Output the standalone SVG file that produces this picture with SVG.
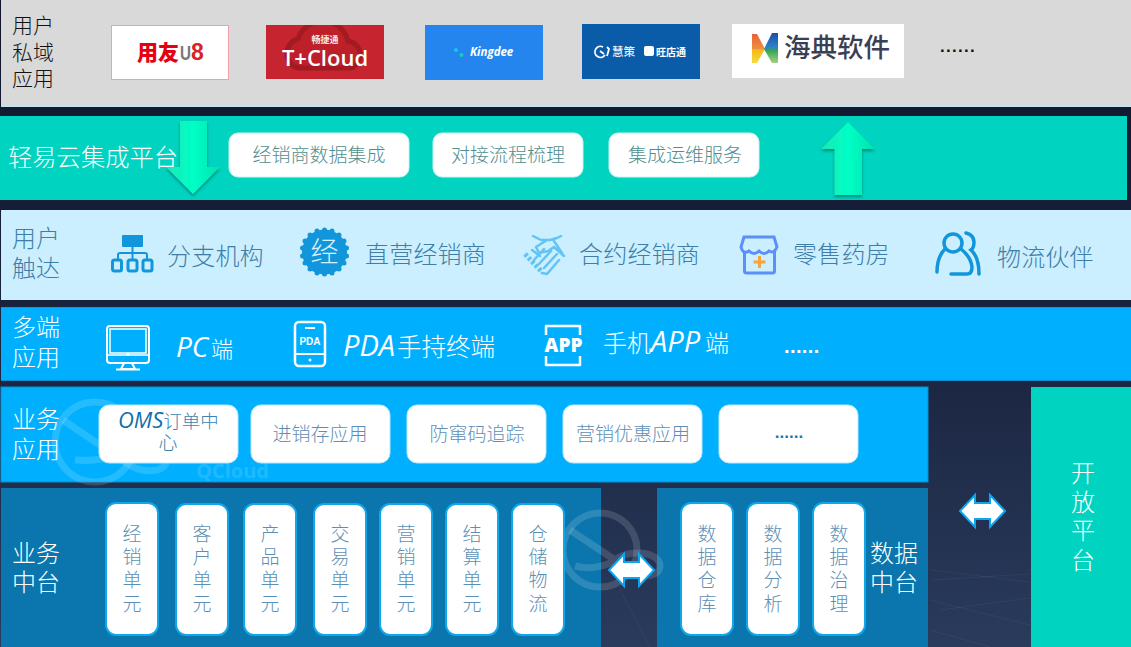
<svg xmlns="http://www.w3.org/2000/svg" width="1131" height="647" viewBox="0 0 1131 647">
<style>
text{font-family:"Noto Sans CJK SC","Noto Sans",sans-serif;font-weight:300}
.lat{font-family:"Open Sans","Noto Sans CJK SC",sans-serif;font-style:italic;font-weight:400}
.mono{font-family:"Liberation Sans",sans-serif;font-weight:700}
.touch{font-size:24px;fill:#3f7ea6}
.mt{font-size:24px;fill:#fff}
.p2{fill:#fff;stroke:#c8f5ee;stroke-width:1}
.p2t{font-size:19px;fill:#4f8f8f;text-anchor:middle}
.p5{fill:#fff;stroke:#b5e8ff;stroke-width:1}
.p5t{font-size:19px;fill:#5d8fb5;text-anchor:middle}
.p6{fill:#fff;stroke:#0fa6ea;stroke-width:2}
.p6t{font-size:19px;fill:#5d8fb5;text-anchor:middle}
.ico{fill:none;stroke:#1296db;stroke-width:3}
.icw{fill:none;stroke:#fff;stroke-width:2.500}
.hs{fill:none;stroke:#62c4f4;stroke-width:2.500;stroke-linecap:round;stroke-linejoin:round}
.wm{fill:none;stroke:#fff;stroke-opacity:.14;stroke-width:7}
.da{fill:#fff;stroke:#0aa6f0;stroke-width:2}
.st{stroke:#fff;stroke-opacity:.05;stroke-width:1;fill:none}
</style>
<defs>
<linearGradient id="bg" x1="0" y1="0" x2="0" y2="1"><stop offset="0" stop-color="#10142a"/><stop offset=".6" stop-color="#1c2743"/><stop offset="1" stop-color="#2a3b5c"/></linearGradient>
<linearGradient id="ag" x1="0" y1="0" x2="1" y2="0"><stop offset="0" stop-color="#1ee6b4"/><stop offset=".5" stop-color="#00ffc6"/><stop offset="1" stop-color="#06e3ae"/></linearGradient>
<linearGradient id="hl" x1="0" y1="0" x2="0" y2="1"><stop offset="0" stop-color="#e8613f"/><stop offset=".5" stop-color="#ef8f3a"/><stop offset=".55" stop-color="#f6b81e"/><stop offset="1" stop-color="#f4dc3a"/></linearGradient>
<linearGradient id="hr" x1="0" y1="0" x2="0" y2="1"><stop offset="0" stop-color="#1a4fa8"/><stop offset=".5" stop-color="#2f86c8"/><stop offset=".55" stop-color="#2fa050"/><stop offset="1" stop-color="#a6cf88"/></linearGradient>
<filter id="sh" x="-30%" y="-30%" width="160%" height="160%"><feDropShadow dx="0" dy="2" stdDeviation="1.500" flood-color="#00574f" flood-opacity=".6"/></filter>
<clipPath id="tc"><rect x="266" y="25" width="118" height="54"/></clipPath>
</defs>
<rect width="1131" height="647" fill="url(#bg)"/>
<path class="st" d="M930 570l100 12M930 600l100 25M930 630l60 17M932 580l98-6M620 590l30 57M940 610l90-12"/>

<g id="band-private">
<rect x="1" y="0" width="1130" height="106.500" fill="#d9d9d9"/>
<rect x="1" y="106" width="1130" height="1" fill="#bfe6f5"/>
<text x="12" y="33" font-size="21" fill="#111">用户</text>
<text x="12" y="60" font-size="21" fill="#111">私域</text>
<text x="12" y="86" font-size="21" fill="#111">应用</text>
</g>
<g id="logo-u8">
<rect x="111.500" y="25.500" width="117" height="54" fill="#fff" stroke="#f0a0a6"/>
<text x="137" y="60" font-size="21" style="font-weight:900" fill="#e60012">用友</text>
<text x="180" y="60" font-size="21" class="mono" fill="#777" textLength="11" lengthAdjust="spacingAndGlyphs">U</text>
<text x="191" y="60" font-size="23" class="mono" fill="#d8232a">8</text>
</g>
<g id="logo-tcloud">
<rect x="266" y="25" width="118" height="54" fill="#c6242e"/>
<path clip-path="url(#tc)" d="M298 68a15 15 0 0 1 0-29 26 26 0 0 1 50 2 14 14 0 0 1 3 27z" fill="#bd2029" stroke="#a41a23" stroke-width="5"/>
<text x="325" y="43" font-size="9" style="font-weight:700" fill="#f8e4e5" text-anchor="middle">畅捷通</text>
<text x="325" y="66" font-size="22" style="font-family:'Open Sans',sans-serif;font-weight:600" fill="#fff" text-anchor="middle">T+Cloud</text>
</g>
<g id="logo-kingdee">
<rect x="425" y="25" width="118" height="55" fill="#2585ee"/>
<circle cx="456" cy="50" r="2" fill="#10c8f0"/><circle cx="461.500" cy="55" r="2" fill="#12d0b0"/><circle cx="467" cy="60" r="1" fill="#8a5cf0"/>
<text x="470" y="56" font-size="11.500" class="lat" style="font-weight:700" fill="#fff">Kingdee</text>
</g>
<g id="logo-wdt">
<rect x="582" y="24" width="118" height="55" fill="#0b5ca8"/>
<path d="M603 47a5.500 5.500 0 1 0 2 8M600 51l4 3M607 47l2 2-2 7" fill="none" stroke="#fff" stroke-width="1.800"/>
<text x="612" y="56" font-size="11.500" style="font-weight:500" fill="#e8f0f8">慧策</text>
<rect x="644" y="46" width="10" height="10" rx="2" fill="#fff"/>
<text x="656" y="56" font-size="10" style="font-weight:700" fill="#fff">旺店通</text>
</g>
<g id="logo-haidian">
<rect x="732" y="24" width="172" height="54" fill="#fff"/>
<path d="M752 34h5l8 15-8 14h-5z" fill="url(#hl)"/>
<path d="M778 33h-6l-8 16 8 14h6z" fill="url(#hr)"/>
<text x="784" y="57" font-size="26.500" style="font-weight:500" fill="#3a3f55">海典软件</text>
</g>
<text x="940" y="52" font-size="17" class="mono" fill="#111" letter-spacing="1.300">......</text>

<g id="band-integration">
<rect x="0" y="116" width="1127" height="84" fill="#00d4c0"/>
<text x="8" y="166" font-size="24.300" fill="#fff">轻易云集成平台</text>
</g>
<g id="n-jc1"><rect x="229" y="133" width="180" height="44" rx="9" class="p2"/><text x="319" y="162" class="p2t">经销商数据集成</text></g>
<g id="n-jc2"><rect x="433" y="133" width="150" height="44" rx="9" class="p2"/><text x="508" y="162" class="p2t">对接流程梳理</text></g>
<g id="n-jc3"><rect x="609" y="133" width="150" height="44" rx="9" class="p2"/><text x="685" y="162" class="p2t">集成运维服务</text></g>

<g id="band-touch">
<rect x="1" y="210" width="1130" height="90" fill="#cbefff"/>
<text x="12" y="247" class="touch">用户</text>
<text x="12" y="277" class="touch">触达</text>
</g>
<g id="n-branch">
<rect x="122" y="235" width="21" height="12" rx="1" fill="#1296db"/>
<path class="ico" style="stroke-width:2" d="M132.500 247v6M118 260v-5q0-2 2-2h25q2 0 2 2v5M132.500 253v7"/>
<rect x="112.500" y="260" width="9" height="11" rx="2" class="ico"/><rect x="128" y="260" width="9" height="11" rx="2" class="ico"/><rect x="143" y="260" width="9" height="11" rx="2" class="ico"/>
<text x="167" y="265" class="touch" letter-spacing=".2">分支机构</text>
</g>
<g id="n-direct">
<circle cx="324.500" cy="252" r="22.500" fill="#1296db"/>
<g fill="#1296db"><circle cx="324.500" cy="230" r="2.500"/><circle cx="332" cy="231" r="2.500"/><circle cx="339" cy="235" r="2.500"/><circle cx="344" cy="241" r="2.500"/><circle cx="346.500" cy="248" r="2.500"/><circle cx="346.500" cy="256" r="2.500"/><circle cx="344" cy="263" r="2.500"/><circle cx="339" cy="269" r="2.500"/><circle cx="332" cy="273" r="2.500"/><circle cx="324.500" cy="274" r="2.500"/><circle cx="317" cy="273" r="2.500"/><circle cx="310" cy="269" r="2.500"/><circle cx="305" cy="263" r="2.500"/><circle cx="302.500" cy="256" r="2.500"/><circle cx="302.500" cy="248" r="2.500"/><circle cx="305" cy="241" r="2.500"/><circle cx="310" cy="235" r="2.500"/><circle cx="317" cy="231" r="2.500"/></g>
<text x="324.500" y="262" font-size="28" fill="#d8f0fb" text-anchor="middle">经</text>
<text x="365" y="263" class="touch" letter-spacing=".2">直营经销商</text>
</g>
<g id="n-contract">
<path class="hs" d="M533 236l8 4 9 0 7-2 4-2M547 240l-11 7 3 6 9-2 6-4 10 9M562 253l-4-6-4-6"/>
<path class="hs" style="stroke-width:5;stroke-dasharray:3 2;stroke-linecap:butt" d="M525 254l17 18"/>
<path class="hs" d="M532 250l8 6M542 273l5 1 12-14M544 268l13-14M539 264l12-13M534 260l10-11"/>
<text x="579" y="263" class="touch" letter-spacing=".2">合约经销商</text>
</g>
<g id="n-pharmacy">
<path d="M744 237h30l3 10q-3 7-8 4q-5 5-10 0q-5 5-10 0q-6 4-8-4z" fill="none" stroke="#5b8ff9" stroke-width="3"/>
<path d="M744.500 251v20q0 2 2 2h26q2 0 2-2v-20" fill="none" stroke="#5b8ff9" stroke-width="3"/>
<path d="M753.500 262h12M759.500 256v12" stroke="#f9a33b" stroke-width="3"/>
<text x="793" y="263" class="touch" letter-spacing=".2">零售药房</text>
</g>
<g id="n-logistics">
<circle cx="953" cy="243" r="9" class="ico" style="stroke-width:3.500"/>
<path class="ico" style="stroke-width:3.500;stroke-linecap:round" d="M945 249q-8 8-8 23M961 249q10 8 11 18q0 7-5 7h-16M966 233q8 2 8 9q0 6-3 8q8 7 8 24"/>
<text x="997" y="266" class="touch" letter-spacing=".2">物流伙伴</text>
</g>

<g id="band-multi">
<rect x="1" y="307" width="1130" height="74" fill="#00b0ff"/>
<rect x="1" y="307" width="1130" height="1" fill="#0a9ae0"/><rect x="1" y="380" width="1130" height="1" fill="#0a8fd0"/>
<text x="12" y="336" class="mt">多端</text>
<text x="12" y="366" class="mt">应用</text>
</g>
<g id="n-pc">
<rect x="107" y="326" width="42" height="37" rx="3" class="icw" style="stroke-width:2"/>
<path class="icw" style="stroke-width:1.500" d="M110 329h36v24h-36zM107 355h42"/>
<circle cx="128" cy="354.500" r="1.500" fill="#fff"/>
<path class="icw" style="stroke-width:2" d="M124 363l-3 6h14l-3-6M116 369.500h24"/>
<text x="176" y="357" font-size="22" fill="#fff"><tspan class="lat" font-size="28">PC</tspan><tspan x="211">端</tspan></text>
</g>
<g id="n-pda">
<rect x="295" y="322" width="30" height="44" rx="4" class="icw"/>
<path class="icw" style="stroke-width:2" d="M295 354h30M305 328h10"/>
<circle cx="310" cy="360" r="1.500" fill="#fff"/>
<text x="310" y="345" font-size="10" class="mono" fill="#fff" text-anchor="middle">PDA</text>
<text x="343" y="356" font-size="24.500" fill="#fff"><tspan class="lat" font-size="29">PDA</tspan><tspan x="397">手持终端</tspan></text>
</g>
<g id="n-app">
<path class="icw" stroke-linejoin="round" d="M546 335v-9h34v9M546 356v9h34v-9"/>
<text x="563.500" y="352" font-size="19" style="font-family:'Open Sans',sans-serif;font-weight:800" fill="#fff" text-anchor="middle">APP</text>
<text x="603" y="352" class="mt">手机<tspan class="lat" font-size="29">APP</tspan><tspan x="705">端</tspan></text>
</g>
<text x="784" y="353" font-size="20" class="mono" fill="#fff" letter-spacing=".4">......</text>

<g id="band-apps">
<rect x="1" y="387" width="927" height="95" fill="#00b0ff" stroke="#0a8fd0" stroke-width="1"/>
<g id="wm1">
<circle cx="95" cy="442" r="40" class="wm"/>
<path class="wm" d="M63 420l62 42c15 12 40 12 42-2 2-12-26-16-42-8-10 5-30 10-50 8"/>
<text x="196" y="478" font-size="20" style="font-family:'Open Sans',sans-serif;font-weight:700" fill="#fff" fill-opacity=".14">QCloud</text>
</g>
<text x="12" y="428" class="mt">业务</text>
<text x="12" y="458" class="mt">应用</text>
</g>
<g id="n-oms"><rect x="99" y="405" width="139" height="58" rx="10" class="p5"/>
<text x="118" y="428" font-size="18.500" fill="#3c84b0"><tspan class="lat" font-size="22" fill="#0f6fa8">OMS</tspan>订单中</text><text x="168" y="450" class="p5t" style="fill:#3c84b0">心</text></g>
<g id="n-jxc"><rect x="251" y="405" width="139" height="58" rx="10" class="p5"/><text x="320" y="441" class="p5t">进销存应用</text></g>
<g id="n-fc"><rect x="407" y="405" width="139" height="58" rx="10" class="p5"/><text x="477" y="441" class="p5t">防窜码追踪</text></g>
<g id="n-yx"><rect x="563" y="405" width="139" height="58" rx="10" class="p5"/><text x="633" y="441" class="p5t">营销优惠应用</text></g>
<g id="n-more"><rect x="719" y="405" width="139" height="58" rx="10" class="p5"/><text x="789" y="438" font-size="17" class="mono" fill="#1778b0" text-anchor="middle">......</text></g>

<g id="band-biz">
<rect x="1" y="488" width="600" height="159" fill="#0a76ad"/>
<text x="12" y="562" class="mt">业务</text>
<text x="12" y="591" class="mt">中台</text>
</g>
<g id="band-data">
<rect x="657" y="488" width="271" height="159" fill="#0a76ad"/>
<text x="870" y="562" class="mt">数据</text>
<text x="870" y="591" class="mt">中台</text>
</g>
<g id="wm2">
<circle cx="600" cy="550" r="37" class="wm"/>
<path class="wm" d="M570 530l60 40c14 10 30 6 30-4 0-14-30-18-45-6-8 6-25 10-40 6"/>
</g>

<g id="n-u1"><rect x="106" y="503" width="52" height="132" rx="10" class="p6"/><text class="p6t"><tspan x="132" y="541">经</tspan><tspan x="132" y="564">销</tspan><tspan x="132" y="587">单</tspan><tspan x="132" y="611">元</tspan></text></g>
<g id="n-u2"><rect x="176" y="504" width="52" height="131" rx="10" class="p6"/><text class="p6t"><tspan x="202" y="541">客</tspan><tspan x="202" y="564">户</tspan><tspan x="202" y="587">单</tspan><tspan x="202" y="611">元</tspan></text></g>
<g id="n-u3"><rect x="244" y="504" width="52" height="131" rx="10" class="p6"/><text class="p6t"><tspan x="270" y="541">产</tspan><tspan x="270" y="564">品</tspan><tspan x="270" y="587">单</tspan><tspan x="270" y="611">元</tspan></text></g>
<g id="n-u4"><rect x="314" y="504" width="52" height="131" rx="10" class="p6"/><text class="p6t"><tspan x="340" y="541">交</tspan><tspan x="340" y="564">易</tspan><tspan x="340" y="587">单</tspan><tspan x="340" y="611">元</tspan></text></g>
<g id="n-u5"><rect x="380" y="504" width="52" height="131" rx="10" class="p6"/><text class="p6t"><tspan x="406" y="541">营</tspan><tspan x="406" y="564">销</tspan><tspan x="406" y="587">单</tspan><tspan x="406" y="611">元</tspan></text></g>
<g id="n-u6"><rect x="446" y="504" width="52" height="131" rx="10" class="p6"/><text class="p6t"><tspan x="472" y="541">结</tspan><tspan x="472" y="564">算</tspan><tspan x="472" y="587">单</tspan><tspan x="472" y="611">元</tspan></text></g>
<g id="n-u7"><rect x="512" y="504" width="52" height="131" rx="10" class="p6"/><text class="p6t"><tspan x="538" y="541">仓</tspan><tspan x="538" y="564">储</tspan><tspan x="538" y="587">物</tspan><tspan x="538" y="611">流</tspan></text></g>
<g id="n-d1"><rect x="681" y="503" width="52" height="132" rx="10" class="p6"/><text class="p6t"><tspan x="707" y="541">数</tspan><tspan x="707" y="564">据</tspan><tspan x="707" y="587">仓</tspan><tspan x="707" y="611">库</tspan></text></g>
<g id="n-d2"><rect x="747" y="503" width="52" height="132" rx="10" class="p6"/><text class="p6t"><tspan x="773" y="541">数</tspan><tspan x="773" y="564">据</tspan><tspan x="773" y="587">分</tspan><tspan x="773" y="611">析</tspan></text></g>
<g id="n-d3"><rect x="813" y="503" width="52" height="132" rx="10" class="p6"/><text class="p6t"><tspan x="839" y="541">数</tspan><tspan x="839" y="564">据</tspan><tspan x="839" y="587">治</tspan><tspan x="839" y="611">理</tspan></text></g>

<g id="n-open">
<rect x="1031" y="387" width="100" height="260" fill="#00d4c0"/>
<text font-size="24" fill="#fff" text-anchor="middle"><tspan x="1083" y="482">开</tspan><tspan x="1083" y="511">放</tspan><tspan x="1083" y="539">平</tspan><tspan x="1083" y="569">台</tspan></text>
</g>

<g id="connectors">
<path filter="url(#sh)" fill="url(#ag)" d="M180 121h27v46h13l-27 27-27-27h14z"/>
<path filter="url(#sh)" fill="url(#ag)" d="M848 122l27 27h-13v46h-27.500v-46h-13.500z"/>
<path class="da" d="M609 570l15-16v8h15v-8l15 16-15 16v-8h-15v8z"/>
<path class="da" d="M960 511l15-16v8h15v-8l15 16-15 16v-8h-15v8z"/>
</g>
</svg>
